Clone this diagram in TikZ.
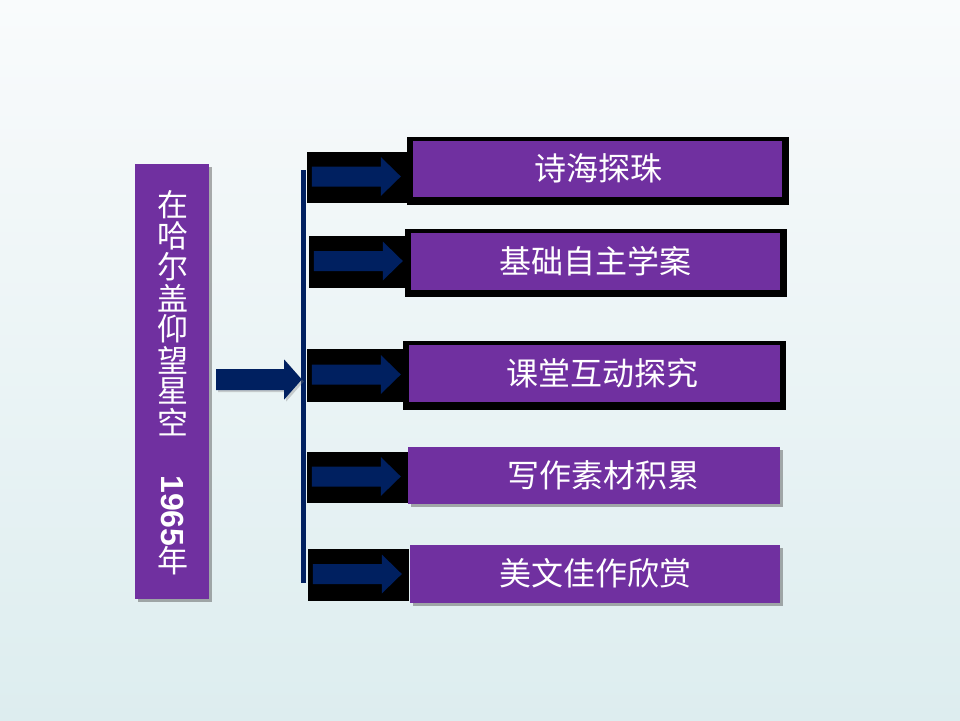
\documentclass[tikz,border=0pt]{standalone}
\usepackage{fontspec}
\setmainfont{Noto Sans CJK SC}
\newfontfamily\latinbold{Liberation Sans}
\usetikzlibrary{shadows,calc}
\definecolor{bgtop}{RGB}{249,251,252}
\definecolor{bgbot}{RGB}{221,237,239}
\definecolor{purp}{RGB}{112,48,160}
\definecolor{navy}{RGB}{0,32,96}
\tikzset{
  pbox/.style={fill=purp, inner sep=0pt, draw=none},
  frame/.style={fill=black, inner sep=0pt, draw=none},
  shadowed/.style={drop shadow={shadow xshift=3pt, shadow yshift=-3pt, opacity=0.45, fill=black!70}},
  boxtext/.style={text=white, font=\fontsize{32}{36}\selectfont, inner sep=0pt},
  sidetext/.style={text=white, font=\fontsize{31}{34}\selectfont, inner sep=0pt},
  arrowfill/.style={fill=navy, draw=none},
}
\newcommand\blkarrow[1]{%
  \fill[arrowfill] ($(#1.west)+(5,-1)$) ++(0,-10) -- ++(69,0) -- ++(0,-9.5) -- ++(20,19.5) -- ++(-20,19.5) -- ++(0,-9.5) -- ++(-69,0) -- cycle;}
\begin{document}
\begin{tikzpicture}[x=1pt,y=-1pt]
\useasboundingbox (0,0) rectangle (960,720);
\shade[top color=bgtop, bottom color=bgbot] (0,0) rectangle (960,720);

% left box
\node[pbox, shadowed, minimum width=74pt, minimum height=435pt] (left) at (172,381.5) {};
\foreach \c [count=\i from 0] in {在,哈,尔,盖,仰,望,星,空}
  \node[sidetext] (s\i) at (173,{205+31*\i}) {\c};
\node[text=white, inner sep=0pt, rotate=-90, font=\latinbold\bfseries\fontsize{32}{36}\selectfont] (year) at (173,511) {1965};
\node[sidetext] (nian) at (173,561) {年};

% vertical bar
\node[fill=navy, inner sep=0pt, minimum width=5pt, minimum height=413pt] (bar) at (303.5,376.5) {};

% big arrow from left box to bar
\coordinate (bs) at ($(left.east)+(7,-2)$);
\fill[arrowfill, drop shadow={shadow xshift=2pt, shadow yshift=-2pt, opacity=0.35}]
  (bs) ++(0,-10.5) -- ++(68,0) -- ++(0,-9.5) -- ($(bar.west |- bs)+(1,0)$) -- ($(bs)+(68,20)$) -- ++(0,-9.5) -- ++(-68,0) -- cycle;

% black frames for first three boxes
\node[frame, minimum width=382pt, minimum height=68pt] (f1) at (598,171) {};
\node[frame, minimum width=382pt, minimum height=68pt] (f2) at (596,263) {};
\node[frame, minimum width=383pt, minimum height=69pt] (f3) at (594.5,375.5) {};

% purple boxes
\node[pbox, minimum width=369pt, minimum height=56pt] (b1) at (597.5,169) {};
\node[pbox, minimum width=369pt, minimum height=57pt] (b2) at (595.5,261.5) {};
\node[pbox, minimum width=371pt, minimum height=57pt] (b3) at (594.5,373.5) {};
\node[pbox, shadowed, minimum width=372pt, minimum height=57pt] (b4) at (594,475.5) {};
\node[pbox, shadowed, minimum width=370pt, minimum height=58pt] (b5) at (595,574) {};

% black arrow panels
\node[frame, minimum width=100pt, minimum height=51pt] (a1) at (357,177.5) {};
\node[frame, minimum width=96pt, minimum height=52pt] (a2) at (357,262) {};
\node[frame, minimum width=96pt, minimum height=53pt] (a3) at (355,375.5) {};
\node[frame, minimum width=101pt, minimum height=51pt] (a4) at (357.5,477.5) {};
\node[frame, minimum width=101pt, minimum height=52pt] (a5) at (358.5,575) {};
\blkarrow{a1}
\blkarrow{a2}
\blkarrow{a3}
\blkarrow{a4}
\blkarrow{a5}

% texts
\node[boxtext] (t1) at (598,168) {诗海探珠};
\node[boxtext] (t2) at (595,261) {基础自主学案};
\node[boxtext] (t3) at (602,373) {课堂互动探究};
\node[boxtext] (t4) at (603,475) {写作素材积累};
\node[boxtext] (t5) at (595,573) {美文佳作欣赏};
\end{tikzpicture}
\end{document}
